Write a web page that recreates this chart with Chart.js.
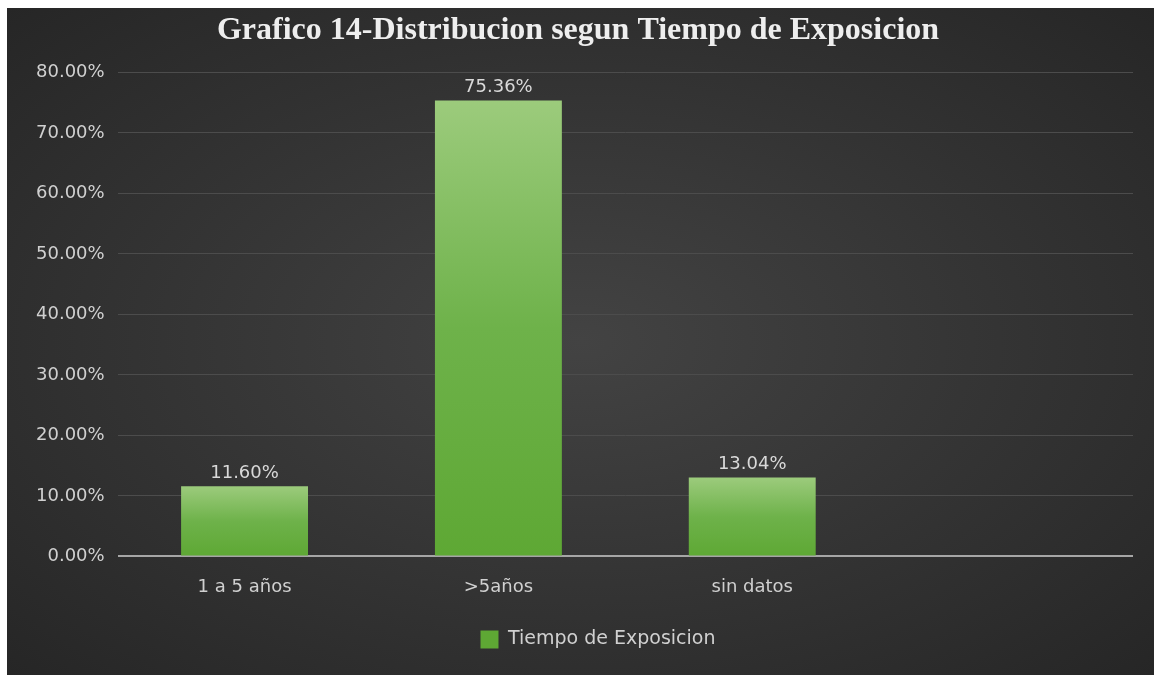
<!DOCTYPE html>
<html>
<head>
<meta charset="utf-8">
<script src="https://cdn.jsdelivr.net/npm/chart.js@4"></script>
<style>
  body { margin: 0; background: #ffffff; }
  #wrap {
    position: absolute; left: 7px; top: 8px; width: 1147px; height: 667px;
    background: radial-gradient(ellipse at 50% 50%, #434343 0%, #333333 55%, #262626 100%);
  }
</style>
</head>
<body>
<div id="wrap"><canvas id="chart"></canvas></div>
<script>
const categories = ['1 a 5 años', '>5años', 'sin datos', ''];
const valores = [11.60, 75.36, 13.04, null];
const serieNombre = 'Tiempo de Exposicion';
const titulo = 'Grafico 14-Distribucion segun Tiempo de Exposicion';

const fontFamily = '"DejaVu Sans", sans-serif';

function barColor(ctx) {
  const chart = ctx.chart;
  if (ctx.type !== 'data' || !chart.chartArea || ctx.raw == null) {
    return '#6cb84a';
  }
  const y = chart.scales.y;
  const top = y.getPixelForValue(ctx.raw);
  const bottom = y.getPixelForValue(0);
  const g = chart.ctx.createLinearGradient(0, top, 0, bottom);
  g.addColorStop(0, '#9ccb7c');
  g.addColorStop(0.5, '#6eb24a');
  g.addColorStop(1, '#5ea834');
  return g;
}

// etiquetas de valor encima de cada barra
const etiquetas = {
  id: 'etiquetas',
  afterLayout(chart) {
    // la leyenda del original esta un poco a la derecha del centro
    chart.legend.left += 20;
    chart.legend.right += 20;
  },
  afterDatasetsDraw(chart) {
    const ctx = chart.ctx;
    const meta = chart.getDatasetMeta(0);
    ctx.save();
    ctx.font = '18px ' + fontFamily;
    ctx.fillStyle = '#d9d9d9';
    ctx.textAlign = 'center';
    ctx.textBaseline = 'bottom';
    meta.data.forEach((bar, i) => {
      if (valores[i] == null) return;
      ctx.fillText(valores[i].toFixed(2) + '%', bar.x, bar.y - 4);
    });
    ctx.restore();
  },
};

new Chart(document.getElementById('chart'), {
  type: 'bar',
  data: {
    labels: categories,
    datasets: [
      {
        label: serieNombre,
        data: valores,
        backgroundColor: barColor,
        categoryPercentage: 1,
        barPercentage: 0.5,
      },
    ],
  },
  options: {
    responsive: true,
    maintainAspectRatio: false,
    animation: false,
    layout: {
      padding: { left: 16, right: 21, bottom: 16 },
    },
    scales: {
      x: {
        grid: { display: false },
        border: { display: false },
        ticks: {
          color: '#d0d0d0',
          padding: 12,
          font: { family: fontFamily, size: 18 },
        },
        afterFit: (scale) => {
          scale.height += 5;
        },
      },
      y: {
        min: 0,
        max: 80,
        border: { display: false },
        grid: {
          color: (c) => (c.tick && c.tick.value === 0 ? '#a6a6a6' : '#4c4c4c'),
          lineWidth: (c) => (c.tick && c.tick.value === 0 ? 2 : 1),
          drawTicks: false,
        },
        ticks: {
          stepSize: 10,
          color: '#d0d0d0',
          padding: 13,
          font: { family: fontFamily, size: 18 },
          callback: (v) => v.toFixed(2) + '%',
        },
      },
    },
    plugins: {
      title: {
        display: true,
        text: titulo,
        color: '#eeeeee',
        padding: { top: 4, bottom: 22 },
        font: { family: '"Liberation Serif", serif', size: 32, weight: 'bold' },
      },
      legend: {
        position: 'bottom',
        labels: {
          color: '#d0d0d0',
          boxWidth: 18,
          boxHeight: 18,
          padding: 15,
          font: { family: fontFamily, size: 19 },
        },
      },
      tooltip: { enabled: false },
    },
  },
  plugins: [etiquetas],
});
</script>
</body>
</html>
